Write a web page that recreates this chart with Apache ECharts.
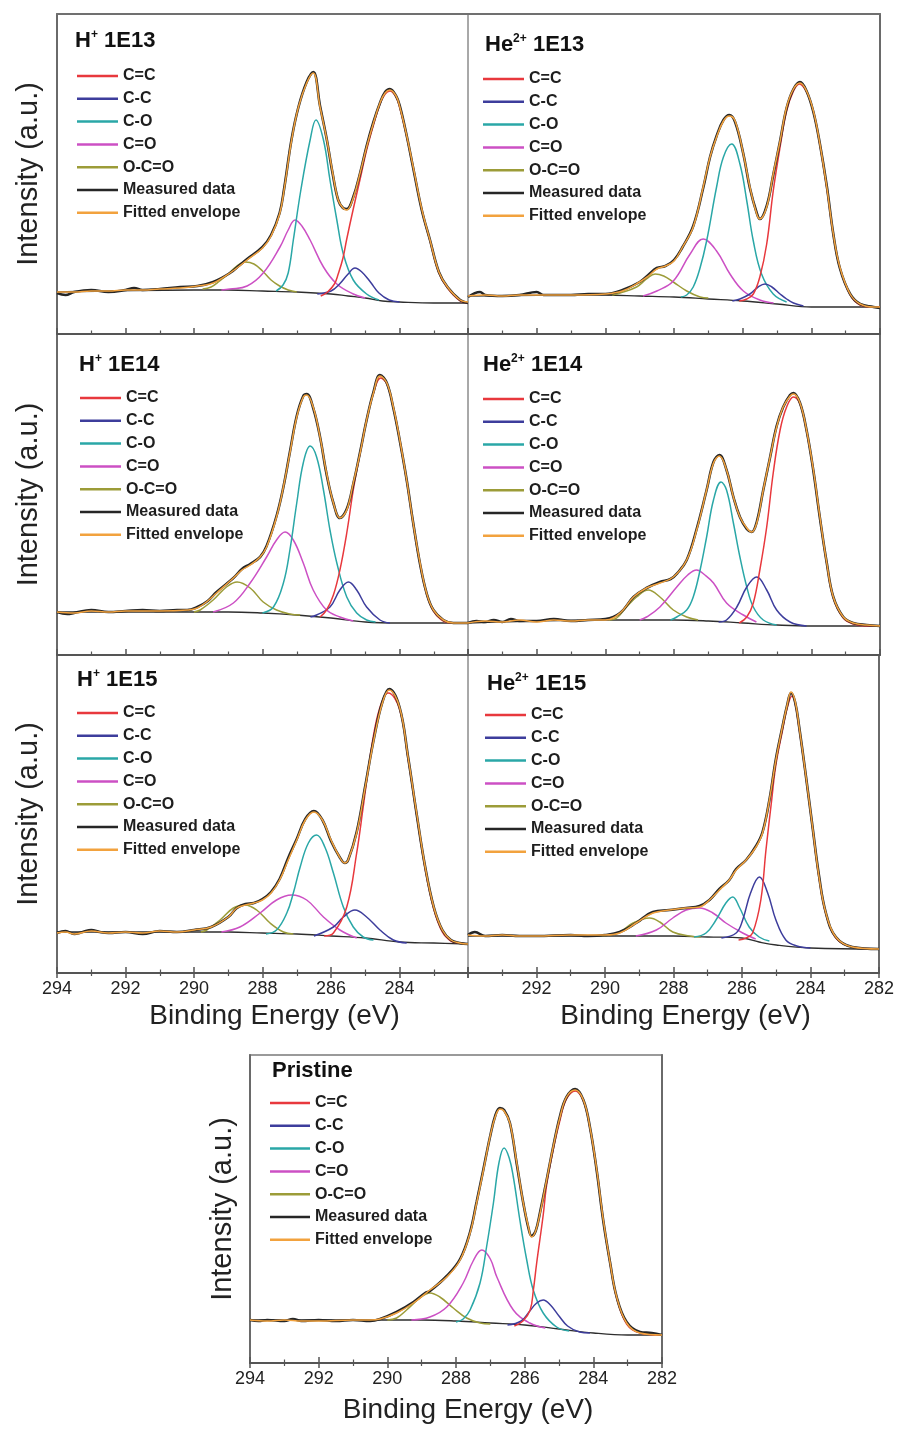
<!DOCTYPE html>
<html><head><meta charset="utf-8">
<script src="https://cdn.jsdelivr.net/npm/echarts@6/dist/echarts.min.js"></script>
<style>html,body{margin:0;padding:0;background:#fff}#c{width:897px;height:1430px}</style>
</head><body><div id="c"></div>
<script>
// ---------------- DATA (x = binding energy eV, y = intensity a.u.) ----------------
const xTicks = [294, 292, 290, 288, 286, 284, 282];
const legendNames = ['C=C', 'C-C', 'C-O', 'C=O', 'O-C=O', 'Measured data', 'Fitted envelope'];
const panelTitles = [['H', '+', ' 1E13'], ['He', '2+', ' 1E13'], ['H', '+', ' 1E14'], ['He', '2+', ' 1E14'], ['H', '+', ' 1E15'], ['He', '2+', ' 1E15'], ['Pristine', '', '']];

// H+ 1E13
const h13_env = [[294,42],[293.5,42],[293,43],[292.5,43],[292,44],[291.5,44],[291,45],[290.4,46],[289.9,48],[289.44,51],[288.95,61],[288.45,74],[288,86],[287.75,98],[287.5,120],[287.37,144],[287.15,194],[286.95,227],[286.71,251],[286.52,261],[286.32,227],[286.12,194],[285.95,161],[285.79,134],[285.65,126],[285.54,124],[285.35,136],[285.15,161],[284.96,187],[284.76,211],[284.57,231],[284.42,241],[284.28,244],[284.1,238],[283.99,227],[283.8,200],[283.6,167],[283.35,125],[283.11,94],[282.85,62],[282.6,47],[282.23,34],[282,32]];
const h13_meas = [[294,41],[293.75,39],[293.5,42],[293,44],[292.5,42],[292,44],[291.75,46],[291.5,44],[291,45],[290.4,47],[289.9,48],[289.44,52],[288.95,61],[288.7,68],[288.45,75],[288,87],[287.75,99],[287.5,121],[287.37,145],[287.15,195],[286.95,227],[286.71,252],[286.52,262],[286.32,228],[286.12,194],[285.95,160],[285.79,134],[285.65,126],[285.54,125],[285.35,137],[285.15,161],[284.96,188],[284.76,212],[284.57,231],[284.42,242],[284.28,245],[284.1,238],[283.99,228],[283.8,200],[283.6,166],[283.35,124],[283.11,94],[282.85,62],[282.6,47],[282.23,34],[282,31]];
const h13_bg = [[294,42],[290,44],[289,44],[288,43],[287,42],[286,40],[285.5,38],[285,36],[284.5,33],[284,32],[283,31],[282,31]];
const h13_CdC = [[286.3,38],[286.1,42],[285.9,50],[285.79,60],[285.65,76],[285.54,95],[285.35,125],[285.15,155],[284.96,184],[284.76,209],[284.57,230],[284.42,240],[284.28,243],[284.1,237],[283.99,226],[283.8,199],[283.6,166],[283.35,124],[283.11,93],[282.85,61],[282.6,46],[282.23,33],[282,31]];
const h13_CC = [[286.4,40],[286,43],[285.75,50],[285.5,60],[285.3,66],[285.1,62],[284.85,52],[284.6,41],[284.3,34],[284,32]];
const h13_CO = [[287.6,43],[287.4,49],[287.25,61],[287.1,94],[286.88,144],[286.61,194],[286.44,214],[286.22,194],[286.03,154],[285.83,114],[285.64,80],[285.35,54],[284.96,40],[284.6,34]];
const h13_CdO = [[289.2,44],[288.95,45],[288.45,48],[287.98,61],[287.49,87],[287.25,104],[287.05,114],[286.85,108],[286.61,94],[286.22,67],[285.83,50],[285.35,40],[285,36]];
const h13_OCO = [[289.75,45],[289.5,47],[289.25,53],[289,60],[288.75,68],[288.5,72],[288.25,70],[288,63],[287.75,54],[287.5,48],[287.25,44],[287,42]];

// He2+ 1E13
const he13_env = [[294,38],[293.5,39],[293,38],[292.5,39],[292,39],[291,39],[290,40],[289.5,43],[289,52],[288.75,58],[288.5,65],[288.25,68],[288,73],[287.75,87],[287.44,107],[287.15,147],[286.95,177],[286.76,197],[286.56,213],[286.39,218],[286.22,213],[285.98,180],[285.79,147],[285.59,120],[285.5,115],[285.3,127],[285.11,160],[284.91,193],[284.72,227],[284.52,245],[284.33,251],[284.14,243],[283.94,223],[283.75,190],[283.55,147],[283.36,100],[283.17,67],[282.87,40],[282.58,30],[282.19,27],[282,27]];
const he13_meas = [[294,37],[293.65,42],[293.5,39],[293,38],[292.5,39],[292,42],[291.8,39],[291,39],[290.5,40],[290,40],[289.5,44],[289,52],[288.75,59],[288.5,66],[288.25,68],[288,74],[287.75,87],[287.44,108],[287.15,146],[286.95,177],[286.76,198],[286.56,214],[286.39,219],[286.22,212],[285.98,180],[285.79,146],[285.59,121],[285.5,115],[285.3,128],[285.11,159],[284.91,193],[284.72,226],[284.52,245],[284.33,252],[284.14,243],[283.94,222],[283.75,190],[283.55,148],[283.36,100],[283.17,66],[282.87,40],[282.58,30],[282.19,27],[282,26]];
const he13_bg = [[294,38],[290,39],[289,38],[288,37],[287,35],[286,33],[285,30],[284,27],[282,27]];
const he13_CdC = [[286.1,33],[285.88,35],[285.69,40],[285.5,57],[285.3,90],[285.11,143],[284.91,187],[284.72,223],[284.52,243],[284.35,250],[284.14,242],[283.94,222],[283.75,189],[283.55,146],[283.36,99],[283.17,66],[282.87,39],[282.58,29],[282.19,27],[282,27]];
const he13_CC = [[286.3,33],[286.08,35],[285.79,40],[285.55,47],[285.35,50],[285.15,47],[284.91,40],[284.72,35],[284.52,31],[284.23,28]];
const he13_CO = [[287.8,37],[287.63,39],[287.44,47],[287.25,65],[287.05,93],[286.76,147],[286.56,177],[286.32,190],[286.08,170],[285.88,133],[285.69,93],[285.45,60],[285.11,40],[284.72,32]];
const he13_CdO = [[288.9,38],[288.5,43],[288.02,53],[287.53,80],[287.15,95],[286.76,83],[286.37,60],[285.98,43],[285.5,34],[285.1,31]];
const he13_OCO = [[289.8,39],[289.57,41],[289.09,47],[288.8,55],[288.55,60],[288.3,58],[288.02,52],[287.63,43],[287.24,37],[287,36]];

// H+ 1E14
const h14_env = [[294,43],[293.5,42],[293,44],[292.5,43],[292,44],[291,44],[290.2,45],[289.9,47],[289.6,54],[289.34,62],[288.85,77],[288.6,85],[288.36,90],[288.07,98],[287.88,108],[287.59,138],[287.39,168],[287.2,202],[287,238],[286.81,258],[286.71,260],[286.52,248],[286.32,218],[286.13,182],[285.93,152],[285.74,137],[285.54,145],[285.35,172],[285.15,202],[284.96,235],[284.76,262],[284.57,279],[284.37,272],[284.18,248],[283.99,215],[283.79,175],[283.6,132],[283.4,92],[283.21,62],[283.01,45],[282.72,35],[282.43,32],[282,32]];
const h14_meas = [[294,43],[293.7,41],[293.5,42],[293,45],[292.5,43],[292,44],[291.5,45],[291,44],[290.5,45],[290.2,45],[289.9,48],[289.6,54],[289.34,63],[288.85,77],[288.6,86],[288.36,91],[288.07,98],[287.88,109],[287.59,139],[287.39,168],[287.2,203],[287,239],[286.81,259],[286.71,261],[286.52,247],[286.32,218],[286.13,181],[285.93,152],[285.74,137],[285.54,146],[285.35,171],[285.15,203],[284.96,235],[284.76,263],[284.57,280],[284.37,272],[284.18,247],[283.99,214],[283.79,175],[283.6,132],[283.4,91],[283.21,62],[283.01,45],[282.72,35],[282.43,32],[282,32]];
const h14_bg = [[294,43],[289,43],[288,42],[287,40],[286,37],[285,33],[284,32],[282,32]];
const h14_CdC = [[286.32,38],[286.13,45],[285.93,60],[285.74,85],[285.54,122],[285.35,165],[285.15,202],[284.96,235],[284.76,262],[284.55,277],[284.37,271],[284.18,247],[283.99,214],[283.79,174],[283.6,131],[283.4,91],[283.21,61],[283.01,44],[282.72,34],[282.43,32],[282,32]];
const h14_CC = [[286.6,38],[286.42,40],[286.03,48],[285.74,65],[285.49,73],[285.25,65],[284.96,48],[284.57,35],[284.28,32]];
const h14_CO = [[288,42],[287.68,48],[287.39,72],[287.2,105],[287,152],[286.81,192],[286.61,209],[286.42,198],[286.22,165],[286.03,125],[285.83,92],[285.54,58],[285.25,42],[284.96,35],[284.7,33]];
const h14_CdO = [[289.44,43],[288.85,52],[288.36,72],[287.88,98],[287.59,115],[287.34,123],[287.1,115],[286.81,92],[286.52,65],[286.13,45],[285.74,38],[285.35,34]];
const h14_OCO = [[290,43],[289.82,45],[289.44,55],[289.05,68],[288.74,73],[288.36,67],[287.98,53],[287.59,45],[287.2,41],[286.9,40]];

// He2+ 1E14
const he14_env = [[294,32],[293.5,34],[293,33],[292.5,35],[292,33],[291.5,35],[291,34],[290.5,35],[290,35],[289.57,42],[289.18,58],[288.8,67],[288.41,72],[288.02,78],[287.63,95],[287.34,125],[287.05,165],[286.85,192],[286.68,199],[286.47,185],[286.27,158],[286.08,138],[285.88,127],[285.74,123],[285.59,132],[285.4,165],[285.2,198],[285.01,228],[284.82,248],[284.62,259],[284.52,261],[284.33,252],[284.14,225],[283.94,185],[283.75,138],[283.55,92],[283.36,58],[283.07,38],[282.78,32],[282.39,30],[282,29]];
const he14_meas = [[294,32],[293.75,34],[293.5,33],[293.25,35],[293,33],[292.75,36],[292.5,34],[292,34],[291.5,36],[291,34],[290.5,35],[290,36],[289.57,42],[289.18,58],[288.8,67],[288.41,73],[288.1,76],[287.9,82],[287.63,95],[287.34,126],[287.05,165],[286.85,193],[286.68,200],[286.47,185],[286.27,158],[286.08,138],[285.88,126],[285.74,123],[285.59,133],[285.4,165],[285.2,198],[285.01,229],[284.82,248],[284.62,260],[284.52,262],[284.33,252],[284.14,225],[283.94,184],[283.75,137],[283.55,92],[283.36,58],[283.07,38],[282.78,32],[282.39,30],[282,29]];
const he14_bg = [[294,32],[290,35],[288,35],[287,34],[286,32],[285,30],[284,29],[282,29]];
const he14_CdC = [[286.1,32],[285.88,38],[285.69,52],[285.5,85],[285.3,128],[285.11,182],[284.91,225],[284.72,248],[284.52,258],[284.33,251],[284.14,224],[283.94,184],[283.75,137],[283.55,91],[283.36,57],[283.07,37],[282.78,31],[282.39,29],[282,29]];
const he14_CC = [[286.7,33],[286.47,35],[286.17,48],[285.88,68],[285.59,78],[285.3,65],[285.01,45],[284.62,33],[284.14,29]];
const he14_CO = [[288.1,35],[287.92,38],[287.63,45],[287.44,58],[287.24,85],[287.05,118],[286.85,155],[286.63,173],[286.47,165],[286.27,132],[286.08,98],[285.88,68],[285.69,48],[285.4,35],[285.01,30]];
const he14_CdO = [[289,35],[288.8,38],[288.41,48],[287.92,68],[287.6,80],[287.34,85],[287.1,80],[286.85,72],[286.47,52],[285.98,40],[285.6,33]];
const he14_OCO = [[289.9,35],[289.67,37],[289.38,48],[289.09,58],[288.75,65],[288.41,58],[288.02,45],[287.63,38],[287.3,35]];

// H+ 1E15
const h15_env = [[294,40],[293.75,41],[293.5,39],[293,42],[292.5,40],[292,41],[291.5,40],[291,42],[290.5,41],[290,43],[289.5,46],[289,56],[288.75,65],[288.5,68],[288.25,70],[288,73],[287.75,80],[287.5,93],[287.25,113],[287,133],[286.75,153],[286.5,161],[286.25,153],[286,133],[285.75,116],[285.6,110],[285.5,113],[285.25,140],[285,186],[284.75,233],[284.5,270],[284.3,283],[284,266],[283.75,216],[283.5,160],[283.25,106],[283,66],[282.75,43],[282.5,33],[282.25,30],[282,29]];
const h15_meas = [[294,40],[293.75,42],[293.5,39],[293.25,41],[293,43],[292.75,41],[292.5,40],[292,41],[291.5,39],[291,42],[290.5,41],[290,43],[289.5,46],[289,56],[288.75,65],[288.5,69],[288.25,70],[288,74],[287.75,81],[287.5,94],[287.25,115],[287,134],[286.75,154],[286.5,162],[286.25,153],[286,132],[285.75,116],[285.6,110],[285.5,113],[285.25,141],[285,187],[284.75,234],[284.5,271],[284.3,284],[284,266],[283.75,216],[283.5,159],[283.25,106],[283,66],[282.75,43],[282.5,33],[282.25,30],[282,29]];
const h15_bg = [[294,41],[289,41],[288,40],[287,39],[286,37],[285,35],[284,31],[283,30],[282,29]];
const h15_CdC = [[286.2,37],[285.93,40],[285.54,66],[285.25,120],[285.06,166],[284.86,216],[284.67,253],[284.47,275],[284.33,280],[284,264],[283.75,214],[283.5,158],[283.25,104],[283,64],[282.75,41],[282.5,32],[282.25,30],[282,29]];
const h15_CC = [[286.5,37],[285.93,46],[285.64,56],[285.3,63],[284.96,56],[284.57,43],[284.18,33],[283.79,30]];
const h15_CO = [[287.9,39],[287.59,43],[287.29,60],[287.1,80],[286.9,106],[286.66,130],[286.42,138],[286.18,126],[285.93,100],[285.64,66],[285.35,46],[285.06,36],[284.76,33]];
const h15_CdO = [[289.2,41],[288.66,46],[288.07,60],[287.59,73],[287.15,78],[286.71,73],[286.22,56],[285.74,43],[285.25,35]];
const h15_OCO = [[289.8,41],[289.63,43],[289.24,53],[288.85,65],[288.51,68],[288.17,63],[287.78,50],[287.39,41],[287.1,39]];

// He2+ 1E15
const he15_env = [[294,38],[293.5,37],[293,38],[292.5,37],[292,37],[291,38],[290,38],[289.57,40],[289.09,50],[288.6,60],[288.12,63],[287.63,65],[287.24,66],[286.95,73],[286.66,83],[286.37,93],[286.17,103],[285.88,113],[285.59,126],[285.4,140],[285.2,173],[285.01,213],[284.82,246],[284.68,268],[284.57,281],[284.45,272],[284.33,246],[284.13,196],[283.94,146],[283.75,96],[283.55,60],[283.26,36],[282.78,26],[282,24]];
const he15_meas = [[294,38],[293.8,41],[293.5,37],[293,38],[292.5,37],[292,37],[291,38],[290.5,37],[290,38],[289.57,41],[289.09,50],[288.6,61],[288.12,63],[287.63,65],[287.24,67],[286.95,73],[286.66,84],[286.37,93],[286.17,104],[285.88,113],[285.59,127],[285.4,141],[285.2,173],[285.01,214],[284.82,246],[284.68,268],[284.57,280],[284.45,271],[284.33,246],[284.13,196],[283.94,146],[283.75,97],[283.55,60],[283.26,36],[282.78,26],[282,24]];
const he15_bg = [[294,37],[288,37],[287,36],[286,35],[285.5,31],[285,28],[284,25],[282,24]];
const he15_CdC = [[286.1,33],[285.88,35],[285.69,40],[285.45,73],[285.3,123],[285.15,168],[285.01,208],[284.82,242],[284.68,265],[284.54,277],[284.45,270],[284.33,244],[284.13,195],[283.94,145],[283.75,95],[283.55,59],[283.26,35],[282.78,26],[282,24]];
const he15_CC = [[286.6,35],[286.17,40],[285.98,53],[285.75,80],[285.49,96],[285.25,80],[285.01,53],[284.72,33],[284.4,27],[284,25]];
const he15_CO = [[287.4,36],[287.05,40],[286.76,53],[286.47,70],[286.27,76],[286.08,66],[285.79,46],[285.5,36],[285.2,32]];
const he15_CdO = [[289.1,37],[288.5,43],[288.02,55],[287.63,63],[287.24,65],[286.85,60],[286.47,50],[285.98,40],[285.6,34]];
const he15_OCO = [[290.1,37],[289.57,41],[289.18,50],[288.7,55],[288.4,51],[288.02,41],[287.53,37],[287.2,36]];

// Pristine
const pr_env = [[294,43],[293.5,42],[293,43],[292.5,42],[292,42],[291,43],[290.5,43],[290.21,44],[289.73,50],[289.24,60],[288.76,73],[288.27,86],[287.88,103],[287.59,130],[287.4,160],[287.2,193],[287.01,226],[286.85,247],[286.72,254],[286.6,252],[286.43,240],[286.23,200],[286.04,160],[285.89,136],[285.8,126],[285.68,132],[285.55,150],[285.36,183],[285.17,216],[284.97,246],[284.78,266],[284.53,273],[284.29,263],[284.1,236],[283.9,193],[283.71,143],[283.51,100],[283.32,66],[283.03,40],[282.64,30],[282,28]];
const pr_meas = [[294,43],[293.75,42],[293.5,43],[293,42],[292.75,44],[292.5,42],[292,43],[291.5,42],[291,43],[290.5,42],[290.21,44],[289.73,51],[289.24,61],[288.9,70],[288.76,72],[288.27,87],[287.88,104],[287.59,131],[287.4,161],[287.2,194],[287.01,226],[286.85,248],[286.72,255],[286.6,253],[286.43,240],[286.23,199],[286.04,160],[285.89,135],[285.8,127],[285.68,132],[285.55,151],[285.36,183],[285.17,216],[284.97,247],[284.78,266],[284.53,274],[284.29,263],[284.1,236],[283.9,192],[283.71,142],[283.51,100],[283.32,66],[283.03,41],[282.64,31],[282.3,30],[282,28]];
const pr_bg = [[294,43],[289,43],[288,42],[287,40],[286,38],[285,34],[284,30],[283,28],[282,28]];
const pr_CdC = [[286.3,37],[286.05,42],[285.84,53],[285.75,72],[285.65,100],[285.46,148],[285.36,178],[285.17,213],[284.97,243],[284.78,264],[284.53,272],[284.29,262],[284.1,235],[283.9,192],[283.71,142],[283.51,99],[283.32,65],[283.03,39],[282.64,30],[282,28]];
const pr_CC = [[286.5,38],[286.1,42],[285.85,52],[285.65,60],[285.46,63],[285.25,58],[285,47],[284.75,37],[284.4,31],[284.1,30]];
const pr_CO = [[288,41],[287.79,44],[287.59,53],[287.3,80],[287.11,116],[286.91,160],[286.75,200],[286.6,215],[286.45,205],[286.33,186],[286.14,143],[285.94,103],[285.75,73],[285.46,50],[285.07,36],[284.7,32]];
const pr_CdO = [[289.3,43],[288.76,46],[288.27,56],[287.79,80],[287.5,102],[287.25,113],[287,104],[286.81,86],[286.33,53],[285.85,40],[285.4,35]];
const pr_OCO = [[290,43],[289.73,45],[289.44,53],[289.05,65],[288.76,70],[288.47,66],[288.08,55],[287.69,45],[287.3,40],[287,39]];

// --------------- LAYOUT / STYLE ---------------
const FONT = '"Liberation Sans", Arial, Helvetica, sans-serif';
const COL = {'C=C':'#e8383d','C-C':'#3d3d9c','C-O':'#2aa7a7','C=O':'#cc50c4','O-C=O':'#9c9c38','Measured data':'#262626','Fitted envelope':'#f2a23e','Background':'#2e2e2e'};

const panels = [
  {g:{left:57, top:14, width:411, height:320}, side:'L', row:'top', title:[75,29], legend:[77,67.5],
   d:{env:h13_env, meas:h13_meas, bg:h13_bg, CdC:h13_CdC, CC:h13_CC, CO:h13_CO, CdO:h13_CdO, OCO:h13_OCO}},
  {g:{left:468, top:14, width:412, height:320}, side:'R', row:'top', title:[485,33], legend:[483,70.5],
   d:{env:he13_env, meas:he13_meas, bg:he13_bg, CdC:he13_CdC, CC:he13_CC, CO:he13_CO, CdO:he13_CdO, OCO:he13_OCO}},
  {g:{left:57, top:334, width:411, height:321}, side:'L', row:'mid', title:[79,352.5], legend:[80,389.5],
   d:{env:h14_env, meas:h14_meas, bg:h14_bg, CdC:h14_CdC, CC:h14_CC, CO:h14_CO, CdO:h14_CdO, OCO:h14_OCO}},
  {g:{left:468, top:334, width:412, height:321}, side:'R', row:'mid', title:[483,353], legend:[483,390.5],
   d:{env:he14_env, meas:he14_meas, bg:he14_bg, CdC:he14_CdC, CC:he14_CC, CO:he14_CO, CdO:he14_CdO, OCO:he14_OCO}},
  {g:{left:57, top:655, width:411, height:318}, side:'L', row:'bot', title:[77,668], legend:[77,704.5],
   d:{env:h15_env, meas:h15_meas, bg:h15_bg, CdC:h15_CdC, CC:h15_CC, CO:h15_CO, CdO:h15_CdO, OCO:h15_OCO}},
  {g:{left:468, top:655, width:412, height:318}, side:'R', row:'bot', title:[487,672], legend:[485,706.5],
   d:{env:he15_env, meas:he15_meas, bg:he15_bg, CdC:he15_CdC, CC:he15_CC, CO:he15_CO, CdO:he15_CdO, OCO:he15_OCO}},
  {g:{left:250, top:1055, width:412, height:308}, side:'B', row:'bot', title:[272,1058.5], legend:[270,1094.5],
   d:{env:pr_env, meas:pr_meas, bg:pr_bg, CdC:pr_CdC, CC:pr_CC, CO:pr_CO, CdO:pr_CdO, OCO:pr_OCO}}
];

const grids = [], xAxes = [], yAxes = [], series = [], titles = [], legends = [];
const AX = '#555';
panels.forEach((p, i) => {
  const h = p.g.height;
  const isB = p.side === 'B';
  grids.push(Object.assign({show:true, borderColor: isB ? '#7a7a7a' : '#8c8c8c', borderWidth: isB ? 1.6 : 1, containLabel:false}, p.g));
  const labeled = p.row === 'bot';
  const fmt = v => {
    if (p.side === 'L' && v === 282) return '';
    if (p.side === 'R' && v === 294) return '';
    return String(v);
  };
  xAxes.push({
    gridIndex:i, type:'value', min:282, max:294, interval:2, inverse:true, position:'bottom',
    axisLine:{show:true, onZero:false, lineStyle:{color:AX, width:2}},
    axisTick:{show:true, inside:true, length:6, lineStyle:{color:AX, width:1.5}},
    minorTick:{show:true, splitNumber:2, length:3.5, lineStyle:{color:AX, width:1.2}},
    splitLine:{show:false}, minorSplitLine:{show:false},
    axisLabel:{show:labeled, fontSize:18, color:'#222', fontFamily:FONT, margin:7, formatter:fmt, showMinLabel:true, showMaxLabel:true},
    name: labeled ? 'Binding Energy (eV)' : '', nameLocation:'middle', nameGap: isB ? 33 : 29,
    nameTextStyle:{fontSize:28, color:'#222', fontFamily:FONT, padding:[0,0,0,24]}
  });
  const isTop = p.row === 'top';
  const isBot = p.row === 'bot';
  xAxes.push({
    gridIndex:i, type:'value', min:282, max:294, interval:2, inverse:true, position:'top',
    offset: isBot ? -h : 0, show: isTop || isBot,
    axisLine:{show:isTop, onZero:false, lineStyle:{color:'#707070', width:2}},
    axisTick:{show:isBot, inside:true, length:5, lineStyle:{color:AX, width:1.5}},
    minorTick:{show:isBot, splitNumber:2, length:3, lineStyle:{color:AX, width:1.2}},
    splitLine:{show:false}, axisLabel:{show:false}
  });
  const leftAxisVisible = p.side !== 'R';
  yAxes.push({
    gridIndex:i, type:'value', min:0, max:h, position:'left',
    axisLine:{show:leftAxisVisible, onZero:false, lineStyle:{color:'#6a6a6a', width:2}},
    axisTick:{show:false}, axisLabel:{show:false}, splitLine:{show:false},
    name: leftAxisVisible ? 'Intensity (a.u.)' : '', nameLocation:'middle', nameGap: isB ? 13 : 14,
    nameTextStyle:{fontSize:29, color:'#222', fontFamily:FONT}
  });
  yAxes.push({
    gridIndex:i, type:'value', min:0, max:h, position:'right', show: p.side !== 'L',
    axisLine:{show:p.side !== 'L', onZero:false, lineStyle:{color:'#6a6a6a', width:2}},
    axisTick:{show:false}, axisLabel:{show:false}, splitLine:{show:false}
  });
  const xi = i * 2, yi = i * 2;
  const mk = (name, data, width, z) => ({
    type:'line', name, data, xAxisIndex:xi, yAxisIndex:yi, showSymbol:false, symbol:'none',
    smooth:0.4, silent:true, animation:false, z,
    color: COL[name], itemStyle:{color:COL[name]}, lineStyle:{color:COL[name], width}
  });
  const d = p.d;
  series.push(
    mk('Background', d.bg, 1.3, 2),
    mk('O-C=O', d.OCO, 1.5, 3),
    mk('C=O', d.CdO, 1.5, 3),
    mk('C-O', d.CO, 1.5, 3),
    mk('C-C', d.CC, 1.5, 3),
    mk('C=C', d.CdC, 1.5, 3),
    mk('Measured data', d.meas, 2.6, 4),
    mk('Fitted envelope', d.env, 1.5, 5)
  );
  const t = panelTitles[i];
  titles.push({
    left:p.title[0], top:p.title[1], padding:0,
    text: t[1] ? `{b|${t[0]}}{s|${t[1]}}{b|${t[2]}}` : `{b|${t[0]}}`,
    textStyle:{rich:{
      b:{fontSize:22, fontWeight:'bold', color:'#111', fontFamily:FONT, lineHeight:24},
      s:{fontSize:12, fontWeight:'bold', color:'#111', fontFamily:FONT, lineHeight:12, verticalAlign:'top'}
    }}
  });
  legends.push({
    left:p.legend[0], top:p.legend[1], orient:'vertical', padding:0,
    itemWidth: isB ? 40 : 41, itemHeight:2.5, itemGap:5.8, icon:'rect', selectedMode:false,
    textStyle:{fontSize:16, fontWeight:'bold', color:'#1e1e1e', fontFamily:FONT, lineHeight:17},
    data: legendNames
  });
});

const chart = echarts.init(document.getElementById('c'), null, {renderer:'canvas', width:897, height:1430});
chart.setOption({
  backgroundColor:'#ffffff', animation:false,
  title:titles, legend:legends, grid:grids, xAxis:xAxes, yAxis:yAxes, series
});
</script></body></html>
